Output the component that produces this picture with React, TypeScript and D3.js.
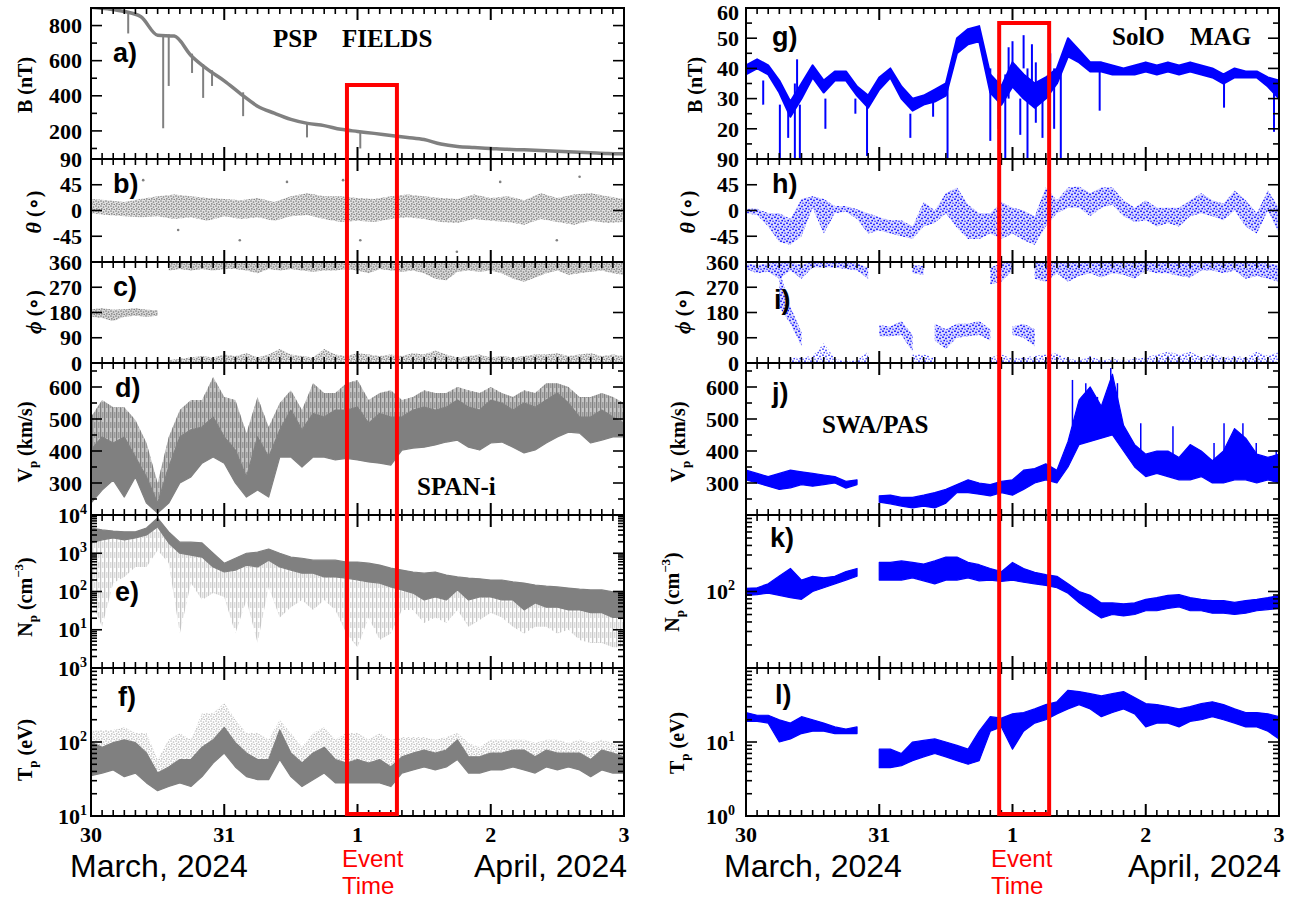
import React from "react";
import * as d3 from "d3";

const START = Date.UTC(2024, 2, 30);
const END = Date.UTC(2024, 3, 3);

// ---------------- PSP (left column) ----------------
// |B| (nT), one value every 3 h from 30 Mar 00 UT
const pspB = [905, 895, 880, 850, 745, 740, 630, 550, 485, 410, 341, 301, 266, 243, 230, 209, 197, 186, 174, 163, 151, 125, 111, 105, 100, 95, 92, 88, 84, 80, 76, 72, 70];
// sharp dips: [hour, from, to]
const pspBDips = [[6.7, 870, 755], [13, 745, 215], [14, 750, 456], [18.2, 640, 530], [20.2, 580, 388], [21.8, 545, 456], [27.4, 420, 284], [38.9, 240, 163], [48.5, 195, 100]];

// theta (deg), spread every 3 h
const pspThetaLo = [-5, -8, -10, -12, -10, -15, -12, -18, -10, -15, -12, -18, -10, -8, -15, -20, -18, -20, -15, -12, -15, -20, -22, -15, -18, -20, -25, -15, -20, -25, -18, -22, -20];
const pspThetaHi = [20, 18, 15, 20, 25, 28, 25, 22, 20, 18, 22, 15, 25, 30, 25, 25, 22, 20, 25, 28, 25, 22, 20, 28, 22, 25, 18, 30, 22, 28, 30, 25, 20];
const pspThetaOut = [[9.4, 53], [15.7, -34], [26.8, -52], [35.3, 50], [45.4, 53], [48.5, -52], [65.9, -72], [73.7, 50], [83.9, -52], [88, 59]];

// phi (deg), every 2 h
const pspPhi180Lo = [165, 160, 150, 165, 168, 165, 168];
const pspPhi180Hi = [192, 195, 190, 192, 195, 190, 188];
// from 14 h on
const pspPhiTopLo = [330, 335, 330, 335, 330, 335, 335, 330, 320, 335, 330, 335, 330, 325, 330, 330, 335, 330, 320, 335, 330, 325, 330, 320, 300, 295, 325, 330, 325, 330, 320, 300, 290, 305, 320, 330, 315, 320, 325, 330, 320, 315];
const pspPhiBotHi = [10, 15, 20, 25, 20, 30, 25, 35, 20, 30, 50, 30, 25, 20, 50, 30, 25, 35, 30, 25, 30, 25, 35, 30, 45, 30, 20, 25, 30, 20, 25, 20, 25, 30, 30, 35, 25, 30, 35, 25, 30, 25];

// Vp (km/s), every 2 h: lower edge, top of dense core, spike tops
const pspVLo = [237, 278, 309, 256, 319, 237, 206, 237, 300, 319, 362, 381, 362, 300, 256, 278, 256, 381, 381, 350, 381, 381, 372, 377, 372, 366, 362, 356, 403, 409, 412, 419, 428, 434, 412, 403, 425, 428, 412, 394, 403, 425, 444, 459, 456, 425, 434, 444, 444];
const pspVCore = [403, 444, 425, 444, 381, 319, 237, 350, 444, 466, 475, 506, 444, 403, 319, 444, 381, 466, 528, 466, 517, 506, 528, 528, 537, 487, 517, 506, 506, 528, 537, 528, 537, 559, 537, 528, 559, 550, 528, 550, 537, 559, 581, 550, 506, 506, 528, 506, 487];
const pspVHi = [506, 559, 537, 537, 497, 425, 300, 444, 528, 559, 559, 631, 569, 559, 456, 569, 475, 550, 590, 528, 612, 581, 581, 612, 622, 559, 581, 590, 559, 569, 590, 581, 581, 600, 590, 581, 600, 581, 569, 590, 581, 612, 612, 600, 569, 569, 581, 569, 550];

// Np (cm^-3), every 2 h
const pspNHi = [4570, 4070, 3800, 3630, 3630, 4570, 8320, 3630, 1950, 1950, 1860, 1000, 550, 740, 1000, 1070, 1290, 1000, 790, 740, 660, 660, 660, 590, 590, 550, 490, 407, 363, 324, 302, 324, 269, 240, 224, 214, 200, 200, 178, 166, 148, 138, 132, 123, 115, 110, 110, 98, 98];
const pspNLo = [1860, 2240, 2510, 2240, 2510, 3020, 4900, 1860, 1000, 890, 790, 437, 324, 363, 490, 437, 660, 437, 363, 302, 302, 240, 240, 224, 200, 178, 166, 132, 110, 91, 60, 72, 60, 110, 60, 72, 72, 60, 60, 33, 50, 39, 39, 33, 33, 28, 28, 21, 21];
const pspNDip = [60, 12, 166, 240, 437, 437, 1200, 560, 8, 166, 60, 91, 72, 8, 60, 4.5, 132, 21, 39, 60, 33, 60, 33, 8, 3.5, 21, 5.4, 8, 33, 33, 15, 21, 15, 33, 12, 18, 28, 21, 12, 8, 12, 12, 8, 10, 5.4, 4.5, 4.5, 3.5, 3.5];

// Tp (eV), every 2 h
const pspTLo = [35, 38, 42, 34, 38, 28, 22, 25, 28, 25, 34, 52, 71, 46, 34, 31, 31, 58, 34, 25, 31, 38, 28, 28, 28, 28, 28, 25, 38, 42, 46, 42, 46, 58, 38, 38, 42, 42, 46, 42, 38, 46, 42, 46, 42, 34, 42, 38, 38];
const pspTHi = [100, 85, 98, 107, 98, 71, 38, 46, 58, 58, 85, 107, 158, 98, 71, 58, 58, 145, 71, 52, 71, 85, 58, 52, 58, 52, 58, 46, 63, 71, 78, 71, 78, 107, 63, 63, 71, 71, 78, 78, 63, 78, 71, 71, 71, 58, 78, 71, 63];
const pspTSpk = [141, 145, 145, 158, 132, 132, 58, 107, 132, 107, 245, 245, 339, 200, 132, 132, 107, 200, 132, 85, 132, 158, 107, 132, 132, 107, 132, 107, 117, 117, 117, 107, 117, 132, 98, 85, 107, 107, 107, 107, 98, 107, 107, 98, 107, 98, 107, 98, 85];

// ---------------- Solar Orbiter (right column) ----------------
// |B| (nT), every 2 h
const solBLo = [38, 40, 38, 32, 24, 30, 37, 32, 36, 36, 31, 27, 33, 37, 30, 26, 28, 29, 31, 45, 48, 49, 32, 28, 34, 30, 27, 30, 35, 44, 42, 39, 39, 38, 38, 38, 39, 38, 39, 38, 39, 38, 37, 35, 37, 37, 37, 34, 30];
const solBHi = [41, 43, 41, 36, 29, 35, 41, 36, 39, 39, 34, 31, 37, 40, 34, 30, 31, 33, 35, 50, 53, 54, 38, 34, 42, 38, 35, 37, 40, 50, 46, 42, 42, 41, 40, 41, 42, 41, 42, 41, 42, 41, 40, 38, 40, 39, 39, 37, 36];
const solBDips = [[3.1, 36, 28], [6.1, 28, 10], [7.6, 30, 17], [8.8, 35, 10], [9.2, 30, 43], [9.7, 28, 10], [14.3, 30, 20], [19.7, 30, 25], [21.8, 28, 11], [29.6, 25, 17], [33.7, 30, 24], [36.3, 35, 10], [44, 40, 16], [45.5, 38, 20], [46.7, 38, 10], [47.3, 30, 47], [48, 38, 49], [49.4, 30, 18], [50, 40, 51], [50.7, 40, 10], [51.5, 30, 48], [52.2, 42, 22], [53.4, 35, 17], [54.8, 35, 45], [55.5, 40, 20], [56.7, 40, 10], [63.7, 40, 26], [86.1, 36, 27], [95.1, 33, 19]];

// theta (deg), every 2 h
const solThetaLo = [-5, -8, -28, -55, -60, -45, 5, -40, -5, -2, -15, -40, -35, -40, -45, -50, -28, -22, -5, -30, -50, -50, -40, -50, -40, -52, -60, -28, -5, 5, 5, -10, 5, 10, -10, -20, -17, -28, -22, -28, -10, -5, -10, -17, 0, -28, -40, 0, -40];
const solThetaHi = [3, 3, -5, -5, -15, 20, 25, 20, 8, 8, 2, -5, -12, -17, -17, -28, 15, 0, 30, 40, 10, -5, -5, 15, 5, 0, -10, 40, 18, 40, 42, 30, 40, 40, 18, 5, 18, 5, 5, 5, 18, 30, 18, 12, 35, 18, -5, 35, 5];

// phi (deg), every 2 h, three branches
const solPhiTopLo = [335, 320, 325, 300, 330, 300, 340, 340, 340, 335, 330, 300, null, null, null, 320, 315, null, null, null, null, null, 280, 290, 330, null, 300, 290, 320, 290, 310, 320, 305, 320, 315, 300, 330, 320, 320, 310, 305, 330, 330, 320, 330, 300, 310, 300, 290];
const solPhiTopHi = [355, 350, 355, 358, 358, 350, 360, 360, 360, 358, 355, 340, null, null, null, 350, 345, null, null, null, null, null, 340, 355, 360, null, 358, 358, 358, 358, 358, 360, 360, 360, 360, 360, 360, 360, 360, 360, 360, 360, 360, 360, 360, 360, 358, 355, 350];
const solPhiMidLo = [null, null, null, 200, 140, 60, null, null, null, null, null, null, 95, 95, 100, 40, null, 80, 50, 90, 95, 100, 80, null, 100, 90, 60, null, null, null, null, null, null, null, null, null, null, null, null, null, null, null, null, null, null, null, null, null, null];
const solPhiMidHi = [null, null, null, 330, 200, 110, null, null, null, null, null, null, 135, 130, 150, 100, null, 140, 120, 140, 140, 150, 120, null, 130, 140, 120, null, null, null, null, null, null, null, null, null, null, null, null, null, null, null, null, null, null, null, null, null, null];
const solPhiBotHi = [null, null, null, null, 20, 20, 25, 70, 15, 5, 10, 40, null, null, null, 30, 30, 20, null, null, null, null, 20, 30, 15, 20, 25, 30, 35, 15, 10, 25, 10, 15, 10, 15, 20, 30, 40, 30, 40, 20, 35, 20, 25, 20, 40, 25, 40];

// Vp (km/s), every 2 h
const solVLo = [310, 300, 290, 280, 285, 295, 290, 295, 300, 284, 295, null, 240, 235, 228, 222, 228, 222, 237, 270, 270, 265, 260, 270, 262, 280, 300, 310, 300, 350, 420, 430, 440, 450, 400, 350, 320, 330, 320, 310, 310, 320, 300, 300, 310, 310, 300, 310, 300];
const solVHi = [340, 330, 320, 330, 340, 335, 330, 325, 320, 305, 310, null, 260, 262, 255, 255, 262, 270, 280, 295, 310, 300, 295, 305, 310, 340, 345, 360, 340, 430, 560, 600, 540, 640, 480, 420, 390, 400, 400, 380, 420, 400, 370, 400, 470, 440, 390, 380, 390];
const solVSpikes = [[58.8, 480, 622], [61.2, 480, 612], [63.3, 480, 569], [65.7, 480, 659], [66.9, 480, 612], [71.1, 400, 487], [76.9, 380, 477], [84.3, 370, 425], [86.1, 380, 487], [89.5, 380, 487], [91.9, 370, 425], [95.5, 370, 403]];

// Np (cm^-3), every 2 h
const solNLo = [89, 91, 95, 89, 83, 79, 100, 112, 126, 141, 158, null, 141, 141, 141, 151, 138, 126, 141, 141, 151, 138, 141, 135, 141, 132, 126, 120, 112, 95, 71, 56, 45, 50, 48, 50, 56, 56, 60, 63, 56, 56, 52, 52, 50, 52, 56, 58, 60];
const solNHi = [110, 112, 126, 160, 200, 141, 158, 151, 158, 182, 200, null, 240, 240, 251, 240, 229, 251, 282, 282, 240, 224, 200, 182, 240, 200, 178, 166, 158, 126, 100, 89, 71, 71, 69, 71, 79, 83, 89, 91, 83, 79, 76, 76, 72, 76, 79, 83, 89];

// Tp (eV), every 2 h
const solTLo = [19, 19, 18, 10, 11, 13, 14, 14, 13, 13, 13, null, 4.5, 4.5, 4.8, 5.6, 6.3, 7, 6.3, 5.6, 5, 5.6, 14, 16, 8, 14, 18, 20, 24, 28, 32, 28, 22, 25, 28, 24, 16, 18, 18, 16, 19, 20, 22, 20, 18, 16, 16, 14, 11];
const solTHi = [25, 23, 23, 20, 18, 22, 20, 18, 16, 15, 16, null, 8, 8, 7, 10, 10.5, 11, 10, 9, 8, 14, 22, 21, 24, 25, 28, 32, 35, 50, 48, 45, 42, 45, 48, 40, 33, 32, 30, 28, 30, 33, 35, 32, 28, 25, 25, 24, 22];

// event interval (hours after 30 Mar 00 UT)
const eventPSP = [46.1, 55.1];
const eventSolO = [45.6, 54.6];

// ---------------- layout / style ----------------
const W = 1291;
const H = 900;
const ROWS = [[8, 159], [159, 262], [262, 363], [363, 515], [515, 668], [668, 816]];
const GRAY = "#808080";
const BLUE = "#0000ff";
const RED = "#ff0000";
const SERIF = "'Liberation Serif','Times New Roman',serif";
const SANS = "'Liberation Sans',Arial,sans-serif";

const xL = d3.scaleUtc().domain([new Date(START), new Date(END)]).range([91, 624]);
const xR = d3.scaleUtc().domain([new Date(START), new Date(END)]).range([746, 1279]);

const hr = (h: number) => new Date(START + h * 3600e3);
const pick = (a: any, i: number) => (Array.isArray(a) ? a[i] : a);
const zip = (lo: any, hi: any, step = 2, from = 0) => {
  const n = Array.isArray(lo) ? lo.length : hi.length;
  return d3.range(n).map((i) => ({ t: hr(from + i * step), lo: pick(lo, i), hi: pick(hi, i) }));
};

const band = (x: any, y: any, rows: any[], fill: string, opacity = 1, stroke?: string, sw = 1.2) => {
  const gen = d3
    .area<any>()
    .defined((d) => d.lo != null && d.hi != null)
    .x((d) => x(d.t))
    .y0((d) => y(d.lo))
    .y1((d) => y(d.hi));
  return (
    <path
      d={gen(rows) || ""}
      fill={fill}
      fillOpacity={opacity}
      stroke={stroke || "none"}
      strokeWidth={stroke ? sw : 0}
      strokeLinejoin="round"
    />
  );
};

const segs = (x: any, y: any, list: number[][], color: string, w: number) =>
  list.map(([h, a, b], i) => (
    <line key={i} x1={x(hr(h))} x2={x(hr(h))} y1={y(a)} y2={y(b)} stroke={color} strokeWidth={w} />
  ));

const lin = (d: number[]) => d3.scaleLinear().domain(d);
const lg = (d: number[]) => d3.scaleLog().domain(d);
const logMinor = (d: number[]) =>
  d3.scaleLog().domain(d).ticks().filter((v) => Math.abs(Math.log10(v) - Math.round(Math.log10(v))) > 1e-6);

// axis titles
const tB = <>B (nT)</>;
const tTheta = (
  <>
    <tspan fontStyle="italic" fontSize={22}>θ</tspan> (∘)
  </>
);
const tPhi = (
  <>
    <tspan fontStyle="italic" fontSize={22}>ϕ</tspan> (∘)
  </>
);
const tV = (
  <>
    V<tspan dy={5} fontSize={13}>p</tspan>
    <tspan dy={-5}> (km/s)</tspan>
  </>
);
const tN = (
  <>
    N<tspan dy={5} fontSize={13}>p</tspan>
    <tspan dy={-5}> (cm</tspan>
    <tspan dy={-9} fontSize={13}>−3</tspan>
    <tspan dy={9}>)</tspan>
  </>
);
const tT = (
  <>
    T<tspan dy={5} fontSize={13}>p</tspan>
    <tspan dy={-5}> (eV)</tspan>
  </>
);

const thetaY = () => ({ y: lin([-90, 90]), major: [-45, 0, 45], minor: [], labels: [90, 45, 0, -45] });
const phiY = () => ({ y: lin([0, 360]), major: [90, 180, 270], minor: [], labels: [360, 270, 180, 90, 0] });
const vY = () => ({ y: lin([200, 675]), major: [300, 400, 500, 600], minor: [250, 350, 450, 550, 650], labels: [600, 500, 400, 300] });

const specs: any[] = [
  {
    id: "a", col: 0, row: 0, y: lin([40, 900]), major: [200, 400, 600, 800], minor: [100, 300, 500, 700],
    labels: [800, 600, 400, 200], letter: "a)", lx: 113, ly: 62, title: tB, tx: 25, ty: 85,
    draw: (x: any, y: any) => {
      const line = d3.line<number>().curve(d3.curveMonotoneX).x((_, i) => x(hr(i * 3))).y((v) => y(v));
      return (
        <>
          <path d={line(pspB) || ""} fill="none" stroke={GRAY} strokeWidth={3.5} />
          {segs(x, y, pspBDips, GRAY, 2)}
        </>
      );
    },
  },
  {
    id: "b", col: 0, row: 1, ...thetaY(), letter: "b)", lx: 113, ly: 193, title: tTheta, tx: 34, ty: 212,
    draw: (x: any, y: any) => (
      <>
        {band(x, y, zip(pspThetaLo, pspThetaHi, 3), GRAY, 0.22)}
        {band(x, y, zip(pspThetaLo, pspThetaHi, 3), "url(#dotsG)")}
        {pspThetaOut.map(([h, v], i) => (
          <circle key={i} cx={x(hr(h))} cy={y(v)} r={1.3} fill={GRAY} />
        ))}
      </>
    ),
  },
  {
    id: "c", col: 0, row: 2, ...phiY(), letter: "c)", lx: 113, ly: 296, title: tPhi, tx: 34, ty: 312,
    draw: (x: any, y: any) => (
      <>
        {band(x, y, zip(pspPhi180Lo, pspPhi180Hi), GRAY, 0.3)}
        {band(x, y, zip(pspPhi180Lo, pspPhi180Hi), "url(#dotsG)")}
        {band(x, y, zip(pspPhiTopLo, 360, 2, 14), GRAY, 0.3)}
        {band(x, y, zip(pspPhiTopLo, 360, 2, 14), "url(#dotsG)")}
        {band(x, y, zip(0, pspPhiBotHi, 2, 14), GRAY, 0.2)}
        {band(x, y, zip(0, pspPhiBotHi, 2, 14), "url(#dotsG)")}
      </>
    ),
  },
  {
    id: "d", col: 0, row: 3, ...vY(), letter: "d)", lx: 115, ly: 397, title: tV, tx: 25, ty: 442,
    draw: (x: any, y: any) => (
      <>
        {band(x, y, zip(pspVCore, pspVHi), GRAY, 0.45)}
        {band(x, y, zip(pspVCore, pspVHi), "url(#streakG)")}
        {band(x, y, zip(pspVLo, pspVCore), GRAY, 1, GRAY)}
      </>
    ),
  },
  {
    id: "e", col: 0, row: 4, y: lg([1, 1e4]), major: [10, 100, 1000], minor: logMinor([1, 1e4]), log: true,
    labels: [1e4, 1e3, 1e2, 1e1], letter: "e)", lx: 115, ly: 601, title: tN, tx: 25, ty: 597,
    draw: (x: any, y: any) => (
      <>
        {band(x, y, zip(pspNDip, pspNLo), "url(#streakG)", 0.45)}
        {band(x, y, zip(pspNLo, pspNHi), GRAY, 1, GRAY)}
      </>
    ),
  },
  {
    id: "f", col: 0, row: 5, y: lg([10, 1000]), major: [100], minor: logMinor([10, 1000]), log: true,
    labels: [1000, 100, 10], letter: "f)", lx: 118, ly: 706, title: tT, tx: 25, ty: 750,
    draw: (x: any, y: any) => (
      <>
        {band(x, y, zip(pspTHi, pspTSpk), "url(#dotsG)", 0.5)}
        {band(x, y, zip(pspTLo, pspTHi), GRAY, 1, GRAY)}
      </>
    ),
  },
  {
    id: "g", col: 1, row: 0, y: lin([10, 60]), major: [20, 30, 40, 50], minor: [15, 25, 35, 45, 55],
    labels: [60, 50, 40, 30, 20], letter: "g)", lx: 772, ly: 46, title: tB, tx: 695, ty: 85,
    draw: (x: any, y: any) => (
      <>
        {band(x, y, zip(solBLo, solBHi), BLUE, 1, BLUE, 2)}
        {segs(x, y, solBDips, BLUE, 2)}
      </>
    ),
  },
  {
    id: "h", col: 1, row: 1, ...thetaY(), letter: "h)", lx: 772, ly: 193, title: tTheta, tx: 688, ty: 212,
    draw: (x: any, y: any) => (
      <>
        {band(x, y, zip(solThetaLo, solThetaHi), BLUE, 0.15)}
        {band(x, y, zip(solThetaLo, solThetaHi), "url(#dotsB)")}
      </>
    ),
  },
  {
    id: "i", col: 1, row: 2, ...phiY(), letter: "i)", lx: 774, ly: 309, title: tPhi, tx: 683, ty: 312,
    draw: (x: any, y: any) => (
      <>
        {band(x, y, zip(solPhiTopLo, solPhiTopHi), BLUE, 0.15)}
        {band(x, y, zip(solPhiTopLo, solPhiTopHi), "url(#dotsB)")}
        {band(x, y, zip(solPhiMidLo, solPhiMidHi), BLUE, 0.15)}
        {band(x, y, zip(solPhiMidLo, solPhiMidHi), "url(#dotsB)")}
        {band(x, y, zip(0, solPhiBotHi), "url(#dotsB)", 0.8)}
      </>
    ),
  },
  {
    id: "j", col: 1, row: 3, ...vY(), letter: "j)", lx: 772, ly: 402, title: tV, tx: 678, ty: 442,
    draw: (x: any, y: any) => (
      <>
        {band(x, y, zip(solVLo, solVHi), BLUE, 1, BLUE)}
        {segs(x, y, solVSpikes, BLUE, 1.5)}
      </>
    ),
  },
  {
    id: "k", col: 1, row: 4, y: lg([10, 1000]), major: [100], minor: logMinor([10, 1000]), log: true,
    labels: [100], letter: "k)", lx: 770, ly: 547, title: tN, tx: 672, ty: 592,
    draw: (x: any, y: any) => band(x, y, zip(solNLo, solNHi), BLUE, 1, BLUE),
  },
  {
    id: "l", col: 1, row: 5, y: lg([1, 100]), major: [10], minor: logMinor([1, 100]), log: true,
    labels: [10, 1], letter: "l)", lx: 775, ly: 704, title: tT, tx: 677, ty: 743,
    draw: (x: any, y: any) => band(x, y, zip(solTLo, solTHi), BLUE, 1, BLUE),
  },
];

function Panel({ p, x }: { p: any; x: any }) {
  const [top, bottom] = ROWS[p.row];
  const [x0, x1] = x.range();
  const y = p.y.copy().range([bottom, top]);
  const clip = `clip-${p.id}`;
  const days = d3.utcDay.range(new Date(START + 1), new Date(END));
  const hours = d3.utcHour
    .every(2)!
    .range(new Date(START + 1), new Date(END))
    .filter((d) => d.getUTCHours() !== 0);
  const labelEnd = p.col === 0 ? (p.log ? 87 : 82) : p.log ? 735 : 739;
  return (
    <g>
      <clipPath id={clip}>
        <rect x={x0} y={top} width={x1 - x0} height={bottom - top} />
      </clipPath>
      <g clipPath={`url(#${clip})`}>{p.draw(x, y)}</g>
      <rect x={x0} y={top} width={x1 - x0} height={bottom - top} fill="none" stroke="#000" strokeWidth={2} />
      <g stroke="#000" strokeWidth={1.6}>
        {hours.map((d: Date, i: number) => (
          <g key={"h" + i}>
            <line x1={x(d)} x2={x(d)} y1={top} y2={top + 6} />
            <line x1={x(d)} x2={x(d)} y1={bottom} y2={bottom - 6} />
          </g>
        ))}
        {days.map((d: Date, i: number) => (
          <g key={"d" + i} strokeWidth={2}>
            <line x1={x(d)} x2={x(d)} y1={top} y2={top + 12} />
            <line x1={x(d)} x2={x(d)} y1={bottom} y2={bottom - 12} />
          </g>
        ))}
        {p.major.map((v: number, i: number) => (
          <g key={"M" + i}>
            <line x1={x0} x2={x0 + 11} y1={y(v)} y2={y(v)} />
            <line x1={x1} x2={x1 - 11} y1={y(v)} y2={y(v)} />
          </g>
        ))}
        {p.minor.map((v: number, i: number) => (
          <g key={"m" + i}>
            <line x1={x0} x2={x0 + 6} y1={y(v)} y2={y(v)} />
            <line x1={x1} x2={x1 - 6} y1={y(v)} y2={y(v)} />
          </g>
        ))}
      </g>
      <g fontFamily={SERIF} fontWeight="bold" fontSize={22} textAnchor="end">
        {p.labels.map((v: number, i: number) =>
          p.log ? (
            <text key={i} x={labelEnd} y={Math.max(y(v), 12)} dy="0.35em">
              10<tspan dy={-9} fontSize={14}>{Math.round(Math.log10(v))}</tspan>
            </text>
          ) : (
            <text key={i} x={labelEnd} y={Math.max(y(v), 12)} dy="0.35em">
              {v}
            </text>
          )
        )}
      </g>
      <text
        transform={`translate(${p.tx},${p.ty}) rotate(-90)`}
        textAnchor="middle"
        dy="0.35em"
        fontFamily={SERIF}
        fontWeight="bold"
        fontSize={20}
      >
        {p.title}
      </text>
      <text x={p.lx} y={p.ly} fontFamily={SANS} fontWeight="bold" fontSize={27}>
        {p.letter}
      </text>
    </g>
  );
}

function Bottom({ x, event, boxTop, marchX, aprilX, eventX }: any) {
  const days = d3.utcDay.range(new Date(START), new Date(END + 1));
  const fmt = d3.utcFormat("%-d");
  const [e0, e1] = event;
  return (
    <g>
      <rect
        x={x(hr(e0))}
        y={boxTop}
        width={x(hr(e1)) - x(hr(e0))}
        height={814 - boxTop}
        fill="none"
        stroke={RED}
        strokeWidth={4}
      />
      <g fontFamily={SERIF} fontWeight="bold" fontSize={22} textAnchor="middle">
        {days.map((d: Date, i: number) => (
          <text key={i} x={x(d)} y={842}>
            {fmt(d)}
          </text>
        ))}
      </g>
      <text x={marchX} y={877} fontFamily={SANS} fontSize={32}>
        March, 2024
      </text>
      <text x={aprilX} y={877} fontFamily={SANS} fontSize={32} textAnchor="end">
        April, 2024
      </text>
      <text x={eventX} y={867} fontFamily={SANS} fontSize={24} fill={RED}>
        Event
      </text>
      <text x={eventX} y={894} fontFamily={SANS} fontSize={24} fill={RED}>
        Time
      </text>
    </g>
  );
}

export default function App() {
  const xs = [xL, xR];
  return (
    <svg
      width={W}
      height={H}
      viewBox={`0 0 ${W} ${H}`}
      style={{ position: "absolute", left: 0, top: 0, background: "#fff" }}
    >
      <defs>
        <pattern id="dotsG" width={5} height={5} patternUnits="userSpaceOnUse">
          <circle cx={1} cy={1} r={0.85} fill={GRAY} />
          <circle cx={3.5} cy={2} r={0.85} fill={GRAY} />
          <circle cx={1.8} cy={3.8} r={0.85} fill={GRAY} />
          <circle cx={4.3} cy={4.6} r={0.85} fill={GRAY} />
        </pattern>
        <pattern id="dotsB" width={6} height={6} patternUnits="userSpaceOnUse">
          <circle cx={1} cy={1.2} r={0.85} fill={BLUE} />
          <circle cx={4} cy={2.4} r={0.85} fill={BLUE} />
          <circle cx={2.2} cy={4.6} r={0.85} fill={BLUE} />
          <circle cx={5} cy={5.2} r={0.7} fill={BLUE} />
        </pattern>
        <pattern id="streakG" width={4} height={10} patternUnits="userSpaceOnUse">
          <rect x={0} y={0} width={1.3} height={10} fill={GRAY} />
          <rect x={2.4} y={2} width={0.9} height={6} fill={GRAY} />
        </pattern>
      </defs>
      <rect x={0} y={0} width={W} height={H} fill="#fff" />
      {specs.map((p) => (
        <Panel key={p.id} p={p} x={xs[p.col]} />
      ))}
      <Bottom x={xL} event={eventPSP} boxTop={85} marchX={70} aprilX={627} eventX={342} />
      <Bottom x={xR} event={eventSolO} boxTop={23} marchX={724} aprilX={1281} eventX={991} />
      <g fontFamily={SERIF} fontWeight="bold" fontSize={25}>
        <text x={273} y={47}>PSP</text>
        <text x={342} y={47}>FIELDS</text>
        <text x={1112} y={45}>SolO</text>
        <text x={1190} y={45}>MAG</text>
        <text x={822} y={433}>SWA/PAS</text>
        <text x={417} y={495}>SPAN-i</text>
      </g>
    </svg>
  );
}
